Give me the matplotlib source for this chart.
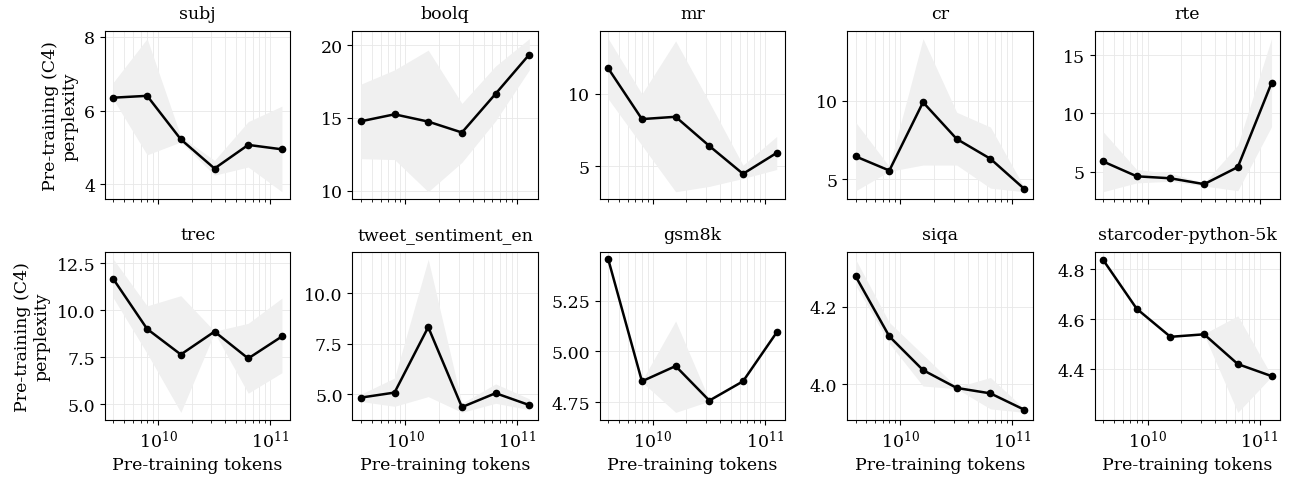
import matplotlib
matplotlib.use("Agg")
import matplotlib.pyplot as plt
import numpy as np

plt.rcParams['font.family'] = ['DejaVu Serif']

tokens = [4e9, 8e9, 1.6e10, 3.2e10, 6.4e10, 1.28e11]

tasks = ["subj", "boolq", "mr", "cr", "rte",
         "trec", "tweet_sentiment_en", "gsm8k", "siqa", "starcoder-python-5k"]

subj_mean = [6.35, 6.40, 5.22, 4.43, 5.07, 4.95]
subj_lo = [6.30, 4.80, 5.15, 4.25, 4.47, 3.80]
subj_hi = [6.77, 7.95, 5.30, 4.65, 5.70, 6.12]

boolq_mean = [14.77, 15.25, 14.75, 14.00, 16.66, 19.36]
boolq_lo = [12.20, 12.14, 9.93, 11.95, 14.80, 18.30]
boolq_hi = [17.32, 18.30, 19.66, 16.00, 18.57, 20.45]

mr_mean = [11.77, 8.26, 8.42, 6.40, 4.47, 5.92]
mr_lo = [9.66, 6.44, 3.23, 3.60, 4.15, 4.77]
mr_hi = [13.83, 10.00, 13.67, 9.43, 5.07, 7.06]

cr_mean = [6.45, 5.55, 9.90, 7.56, 6.30, 4.39]
cr_lo = [4.26, 5.50, 5.90, 5.90, 4.43, 4.20]
cr_hi = [8.63, 5.80, 13.95, 9.26, 8.32, 4.50]

rte_mean = [5.90, 4.63, 4.46, 3.96, 5.42, 12.60]
rte_lo = [3.31, 4.07, 4.20, 3.80, 3.40, 8.87]
rte_hi = [8.45, 5.20, 4.90, 4.05, 7.30, 16.40]

trec_mean = [11.65, 9.00, 7.64, 8.86, 7.43, 8.60]
trec_lo = [10.64, 7.70, 4.56, 8.80, 5.58, 6.67]
trec_hi = [12.71, 10.23, 10.77, 8.88, 9.30, 10.64]

tweet_mean = [4.83, 5.08, 8.32, 4.36, 5.05, 4.46]
tweet_lo = [4.64, 4.40, 4.88, 4.10, 4.55, 4.23]
tweet_hi = [5.00, 5.80, 11.68, 4.55, 5.51, 4.77]

gsm8k_mean = [5.454, 4.853, 4.928, 4.758, 4.853, 5.094]
gsm8k_lo = [5.454, 4.850, 4.700, 4.755, 4.850, 5.092]
gsm8k_hi = [5.454, 4.856, 5.150, 4.761, 4.856, 5.096]

siqa_mean = [4.279, 4.124, 4.037, 3.991, 3.977, 3.935]
siqa_lo = [4.256, 4.106, 3.996, 3.989, 3.937, 3.928]
siqa_hi = [4.323, 4.160, 4.077, 3.993, 4.018, 3.938]

star_mean = [4.837, 4.641, 4.529, 4.539, 4.420, 4.372]
star_lo = [4.835, 4.639, 4.527, 4.537, 4.227, 4.370]
star_hi = [4.839, 4.643, 4.531, 4.541, 4.613, 4.374]

means = [subj_mean, boolq_mean, mr_mean, cr_mean, rte_mean,
         trec_mean, tweet_mean, gsm8k_mean, siqa_mean, star_mean]
los = [subj_lo, boolq_lo, mr_lo, cr_lo, rte_lo,
       trec_lo, tweet_lo, gsm8k_lo, siqa_lo, star_lo]
his = [subj_hi, boolq_hi, mr_hi, cr_hi, rte_hi,
       trec_hi, tweet_hi, gsm8k_hi, siqa_hi, star_hi]

FS = 12.5

fig, axes = plt.subplots(2, 5, figsize=(12.9, 4.81), dpi=100, sharex=True)
fig.subplots_adjust(left=0.0814, right=0.9922, top=0.9335, bottom=0.1247,
                    wspace=0.335, hspace=0.31)

for i, ax in enumerate(axes.flat):
    ax.fill_between(tokens, los[i], his[i], color='0.94', linewidth=0, zorder=1)
    ax.plot(tokens, means[i], color='black', lw=1.8, marker='o', markersize=4.5, zorder=3)
    ax.set_xscale('log')
    ax.set_title(tasks[i], fontsize=FS, pad=9)
    ax.grid(True, which='major', axis='both', color='#e8e8e8', lw=0.6, zorder=0)
    ax.grid(True, which='minor', axis='x', color='#e8e8e8', lw=0.6, zorder=0)
    ax.set_axisbelow(True)
    ax.tick_params(labelsize=FS)
    if i >= 5:
        ax.set_xlabel("Pre-training tokens", fontsize=FS)
    if i % 5 == 0:
        ax.set_ylabel("Pre-training (C4)\nperplexity", fontsize=FS)

axes[0, 0].set_yticks([4, 6, 8])
axes[0, 1].set_yticks([10, 15, 20])
axes[0, 2].set_yticks([5, 10])
axes[0, 3].set_yticks([5, 10])
axes[0, 4].set_yticks([5, 10, 15])
axes[1, 0].set_yticks([5.0, 7.5, 10.0, 12.5])
axes[1, 1].set_yticks([5.0, 7.5, 10.0])
axes[1, 2].set_yticks([4.75, 5.00, 5.25])
axes[1, 3].set_yticks([4.0, 4.2])
axes[1, 4].set_yticks([4.4, 4.6, 4.8])

fig.savefig("out.png", dpi=100)
